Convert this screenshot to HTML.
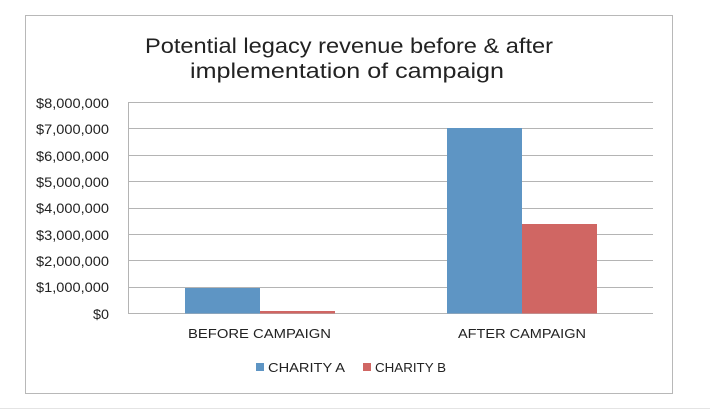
<!DOCTYPE html>
<html><head><style>
html,body{margin:0;padding:0;background:#fff;width:710px;height:410px;overflow:hidden}
text{font-family:"Liberation Sans",sans-serif;fill:#222}
</style></head><body>
<svg width="710" height="410" xmlns="http://www.w3.org/2000/svg">
<rect x="0" y="0" width="710" height="410" fill="#fff"/>
<rect x="25.5" y="15.5" width="647" height="378" fill="#fff" stroke="#b8b8b8" stroke-width="1"/>
<line x1="0" y1="408.5" x2="710" y2="408.5" stroke="#e4e4e4"/>
<text x="145" y="53" font-size="21" textLength="408" lengthAdjust="spacingAndGlyphs">Potential legacy revenue before &amp; after</text>
<text x="190" y="78" font-size="21" textLength="314" lengthAdjust="spacingAndGlyphs">implementation of campaign</text>
<g stroke="#b4b4b4" stroke-width="1">
<line x1="128" y1="102.5" x2="653" y2="102.5"/>
<line x1="128" y1="128.5" x2="653" y2="128.5"/>
<line x1="128" y1="155.5" x2="653" y2="155.5"/>
<line x1="128" y1="181.5" x2="653" y2="181.5"/>
<line x1="128" y1="208.5" x2="653" y2="208.5"/>
<line x1="128" y1="234.5" x2="653" y2="234.5"/>
<line x1="128" y1="260.5" x2="653" y2="260.5"/>
<line x1="128" y1="287.5" x2="653" y2="287.5"/>
<line x1="128" y1="313.5" x2="653" y2="313.5"/>
<line x1="128.5" y1="102" x2="128.5" y2="314"/>
</g>
<g font-size="13.5">
<text x="36" y="108" textLength="73" lengthAdjust="spacingAndGlyphs">$8,000,000</text>
<text x="36" y="134" textLength="73" lengthAdjust="spacingAndGlyphs">$7,000,000</text>
<text x="36" y="161" textLength="73" lengthAdjust="spacingAndGlyphs">$6,000,000</text>
<text x="36" y="187" textLength="73" lengthAdjust="spacingAndGlyphs">$5,000,000</text>
<text x="36" y="213" textLength="73" lengthAdjust="spacingAndGlyphs">$4,000,000</text>
<text x="36" y="240" textLength="73" lengthAdjust="spacingAndGlyphs">$3,000,000</text>
<text x="36" y="266" textLength="73" lengthAdjust="spacingAndGlyphs">$2,000,000</text>
<text x="36" y="292" textLength="73" lengthAdjust="spacingAndGlyphs">$1,000,000</text>
<text x="93" y="319" textLength="16" lengthAdjust="spacingAndGlyphs">$0</text>
</g>
<rect x="185" y="288" width="75" height="25.5" fill="#5e95c4"/>
<rect x="260" y="311" width="75" height="2.5" fill="#d06663"/>
<rect x="447" y="128" width="75" height="185.5" fill="#5e95c4"/>
<rect x="522" y="224" width="75" height="89.5" fill="#d06663"/>
<g font-size="13">
<text x="188" y="338" textLength="143" lengthAdjust="spacingAndGlyphs">BEFORE CAMPAIGN</text>
<text x="458" y="338" textLength="128" lengthAdjust="spacingAndGlyphs">AFTER CAMPAIGN</text>
</g>
<rect x="256" y="363" width="8" height="8" fill="#5e95c4"/>
<text x="268" y="372" font-size="13" textLength="77" lengthAdjust="spacingAndGlyphs">CHARITY A</text>
<rect x="363" y="363" width="8" height="8" fill="#d06663"/>
<text x="375" y="372" font-size="13" textLength="71" lengthAdjust="spacingAndGlyphs">CHARITY B</text>
</svg>
</body></html>
